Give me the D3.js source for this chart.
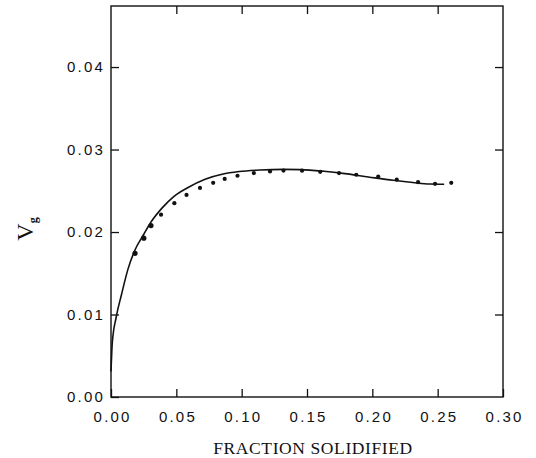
<!DOCTYPE html>
<html><head><meta charset="utf-8">
<script src="https://cdn.jsdelivr.net/npm/d3@7"></script>
<style>body{margin:0;background:#fff}svg{display:block}</style>
</head><body><svg id="c" width="536" height="458"></svg>
<script>
const xTicks = [0, 0.05, 0.10, 0.15, 0.20, 0.25, 0.30];
const yTicks = [0, 0.01, 0.02, 0.03, 0.04];
const curveFs = [0, 0.001, 0.004, 0.008, 0.013, 0.018, 0.025, 0.031, 0.039, 0.048, 0.059, 0.072, 0.085, 0.098, 0.114, 0.132, 0.145, 0.163, 0.179, 0.197, 0.216, 0.231, 0.244, 0.255];
const curveVg = [0.0031, 0.0066, 0.0097, 0.0124, 0.0155, 0.0177, 0.0197, 0.0213, 0.0229, 0.0243, 0.0254, 0.0264, 0.0270, 0.02733, 0.02752, 0.02760, 0.02757, 0.02736, 0.02708, 0.02668, 0.02627, 0.02600, 0.02582, 0.02580];
const dotFs = [0.0184, 0.0251, 0.0306, 0.0383, 0.0485, 0.0578, 0.0681, 0.0782, 0.0870, 0.0968, 0.1093, 0.1217, 0.1320, 0.1462, 0.1601, 0.1745, 0.1877, 0.2045, 0.2187, 0.2350, 0.2480, 0.2604];
const dotVg = [0.01740, 0.01926, 0.02078, 0.02210, 0.02350, 0.02450, 0.02535, 0.02596, 0.02644, 0.02682, 0.02715, 0.02734, 0.02745, 0.02744, 0.02730, 0.02714, 0.02694, 0.02672, 0.02634, 0.02604, 0.02584, 0.02596];

const svg = d3.select("#c");
const L = 111, R = 503, T = 6, B = 397;
const x = d3.scaleLinear().domain([0, 0.30]).range([L, R]);
const y = d3.scaleLinear().domain([0, 0.0474]).range([B, T]);
const tl = 8;

// frame
svg.append("rect").attr("x", L).attr("y", T).attr("width", R - L).attr("height", B - T)
  .attr("fill", "none").attr("stroke", "#111").attr("stroke-width", 1.4);

const fmt = d3.format(".2f");
const tickFont = "'Liberation Sans', Arial, sans-serif";

const gx = svg.append("g").attr("transform", `translate(0,${B})`)
  .call(d3.axisBottom(x).tickValues(xTicks).tickSize(-tl).tickPadding(14).tickFormat(fmt));
const gxt = svg.append("g").attr("transform", `translate(0,${T})`)
  .call(d3.axisTop(x).tickValues(xTicks.slice(1, -1)).tickSize(-tl).tickFormat(""));
const gy = svg.append("g").attr("transform", `translate(${L},0)`)
  .call(d3.axisLeft(y).tickValues(yTicks).tickSize(-tl).tickPadding(8).tickFormat(fmt));
const gyr = svg.append("g").attr("transform", `translate(${R},0)`)
  .call(d3.axisRight(y).tickValues(yTicks.slice(1)).tickSize(-tl).tickFormat(""));

[gx, gxt, gy, gyr].forEach(g => {
  g.select(".domain").remove();
  g.selectAll(".tick line").attr("stroke", "#111").attr("stroke-width", 1.3);
  g.selectAll("text").attr("font-family", tickFont).attr("font-size", 15)
    .attr("fill", "#111").attr("letter-spacing", "2.2px");
});
gx.selectAll("text").attr("dx", "1.1px");
gy.selectAll("text").attr("dx", "2px");

const pts = curveFs.map((f, i) => [f, curveVg[i]]);
svg.append("path").datum(pts)
  .attr("d", d3.line().x(d => x(d[0])).y(d => y(d[1])).curve(d3.curveMonotoneX))
  .attr("fill", "none").attr("stroke", "#111").attr("stroke-width", 1.6);

svg.append("g").selectAll("circle").data(dotFs.map((f, i) => [f, dotVg[i], i]))
  .join("circle")
  .attr("cx", d => x(d[0])).attr("cy", d => y(d[1]))
  .attr("r", d => d[2] < 3 ? 2.6 : 2.1)
  .attr("fill", "#111");

svg.append("text").attr("x", (L + R) / 2 + 6).attr("y", 454)
  .attr("text-anchor", "middle").attr("font-family", "'Liberation Serif', 'Times New Roman', serif")
  .attr("font-size", 17.5).attr("letter-spacing", "0.6px").attr("fill", "#111")
  .text("FRACTION SOLIDIFIED");

const yt = svg.append("text").attr("transform", "translate(33,229) rotate(-90)")
  .attr("text-anchor", "middle").attr("font-family", "'Liberation Serif', 'Times New Roman', serif")
  .attr("font-size", 24).attr("fill", "#111");
yt.append("tspan").text("V");
yt.append("tspan").attr("font-size", 12).attr("dy", 4).attr("font-weight", "bold").text("g");
</script></body></html>
